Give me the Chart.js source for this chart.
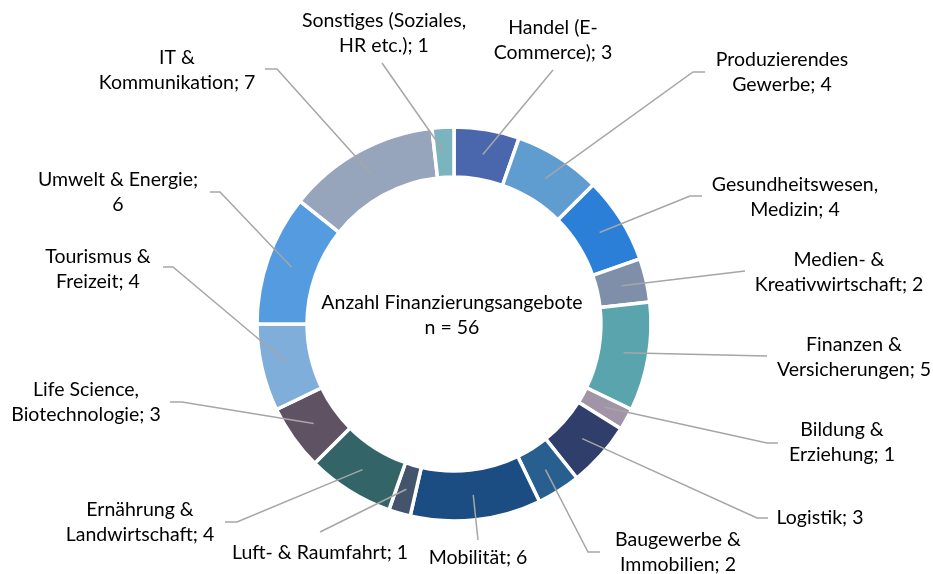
<!DOCTYPE html>
<html>
<head>
<meta charset="utf-8">
<script src="https://cdn.jsdelivr.net/npm/chart.js@4.4.0/dist/chart.umd.min.js"></script>
<style>
  html, body { margin: 0; padding: 0; background: #fff; }
  #wrap { width: 933px; height: 574px; position: relative; }
</style>
</head>
<body>
<div id="wrap"><canvas id="donut-chart"></canvas></div>
<script>
const CATEGORIES = [
    'Handel (E-Commerce)', 'Produzierendes Gewerbe', 'Gesundheitswesen, Medizin',
    'Medien- & Kreativwirtschaft', 'Finanzen & Versicherungen', 'Bildung & Erziehung',
    'Logistik', 'Baugewerbe & Immobilien', 'Mobilität', 'Luft- & Raumfahrt',
    'Ernährung & Landwirtschaft', 'Life Science, Biotechnologie', 'Tourismus & Freizeit',
    'Umwelt & Energie', 'IT & Kommunikation', 'Sonstiges (Soziales, HR etc.)'
]
const VALUES = [3, 4, 4, 2, 5, 1, 3, 2, 6, 1, 4, 3, 4, 6, 7, 1]
// first line of each wrapped label (null = single line)
const FIRST_LINES = [
    'Handel (E-', 'Produzierendes', 'Gesundheitswesen,', 'Medien- &', 'Finanzen &',
    'Bildung &', null, 'Baugewerbe &', null, null, 'Ernährung &', 'Life Science,',
    'Tourismus &', 'Umwelt & Energie;', 'IT &', 'Sonstiges (Soziales,'
]
const CENTER_TITLE = 'Anzahl Finanzierungsangebote'

const COLORS = [
    '#4a67ae', '#5f9ccf', '#2b7fd6', '#7f8fa9', '#5aa4ae', '#a094a6', '#2f3e6b', '#285f8e',
    '#1b4c82', '#44546d', '#336568', '#5f5363', '#7eaed9', '#559be0', '#97a5bc', '#7ab4be'
]

// label placement: [textCenterX, firstLineY, elbowX, elbowY, stubX]
const LABEL_LAYOUT = [
    [553, 28, 553, 70, 553],
    [782, 60, 693, 72, 705],
    [795, 185, 690, 196, 702],
    [839, 260, 745, 271, 745],
    [854, 345, 767, 356, 767],
    [842, 430, 767, 443, 778],
    [820, 518, 757, 518, 768],
    [678, 540, 588, 552, 600],
    [478, 558, 478, 540, 478],
    [320, 553, 320, 532, 320],
    [140, 510, 237, 522, 225],
    [86, 390, 182, 402, 170],
    [98, 257, 173, 267, 163],
    [118, 180, 220, 192, 210],
    [177, 58, 277, 69, 265],
    [384, 21, 382, 63, 382]
]

const FONT = '19.5px Lato, "Open Sans", sans-serif'
const LINE_H = 25
const LEADER_COLOR = '#a6a6a6'

const labelPlugin = {
    id: 'leaderLabels',
    afterDatasetsDraw(chart) {
        const ctx = chart.ctx
        const meta = chart.getDatasetMeta(0)
        const total = VALUES.reduce((a, b) => a + b, 0)
        ctx.save()
        ctx.font = FONT
        ctx.fillStyle = '#000'
        ctx.textAlign = 'center'
        ctx.textBaseline = 'middle'

        meta.data.forEach((arc, i) => {
            const p = arc.getCenterPoint()
            const [tx, ty, ex, ey, sx] = LABEL_LAYOUT[i]
            ctx.strokeStyle = LEADER_COLOR
            ctx.lineWidth = 1.5
            ctx.beginPath()
            ctx.moveTo(p.x, p.y)
            ctx.lineTo(ex, ey)
            ctx.lineTo(sx, ey)
            ctx.stroke()

            const full = CATEGORIES[i] + '; ' + VALUES[i]
            const first = FIRST_LINES[i]
            if (first) {
                ctx.fillText(first, tx, ty)
                ctx.fillText(full.slice(first.length).trim(), tx, ty + LINE_H)
            } else {
                ctx.fillText(full, tx, ty)
            }
        })

        ctx.fillText(CENTER_TITLE, 452, 303)
        ctx.fillText('n = ' + total, 452, 328)
        ctx.restore()
    }
}

new Chart(document.getElementById('donut-chart'), {
    type: 'doughnut',
    data: {
        labels: CATEGORIES,
        datasets: [{
            data: VALUES,
            backgroundColor: COLORS,
            borderColor: '#ffffff',
            borderWidth: 3.5
        }]
    },
    options: {
        responsive: true,
        maintainAspectRatio: false,
        animation: false,
        radius: 197,
        cutout: '74.6%',
        layout: { padding: { left: 200, right: 225, top: 100, bottom: 26 } },
        plugins: {
            legend: { display: false },
            tooltip: { enabled: false }
        }
    },
    plugins: [labelPlugin]
})
</script>
</body>
</html>
